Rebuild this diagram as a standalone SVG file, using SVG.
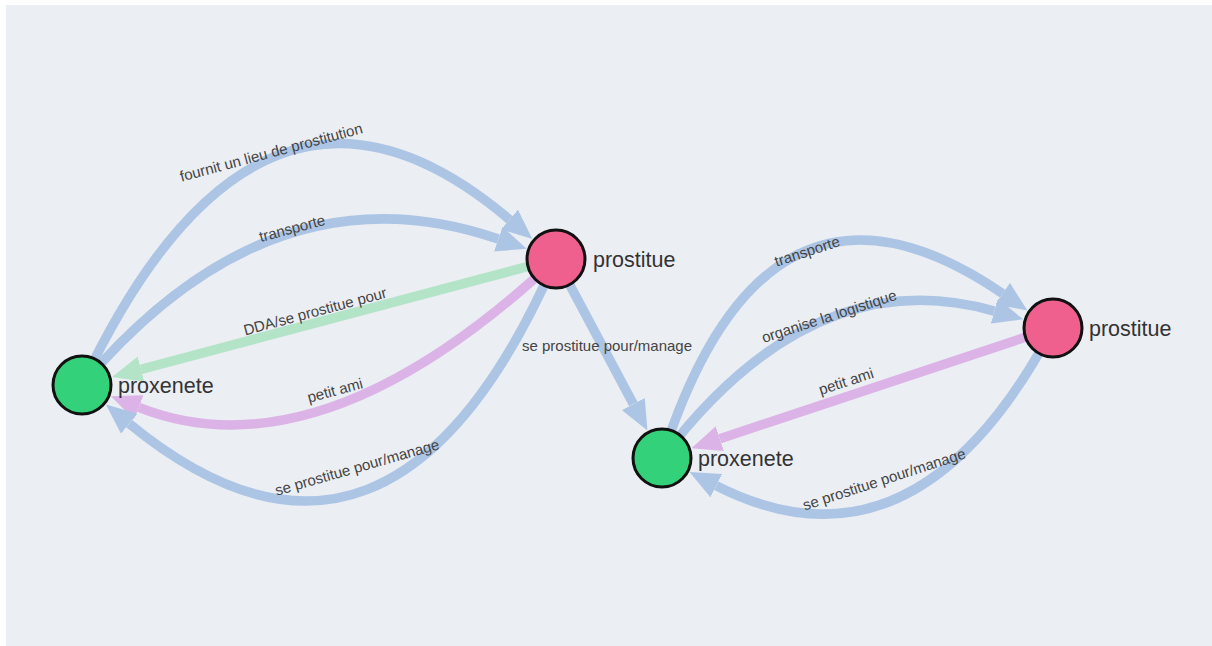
<svg xmlns="http://www.w3.org/2000/svg" width="1212" height="646" viewBox="0 0 1212 646">
<style>
.e{fill:none;stroke-width:9.5;stroke-linecap:butt}
.blue{stroke:#adc5e5}
.green{stroke:#b4e4c8}
.pink{stroke:#dcb3e6}
.el{font-family:"Liberation Sans",Arial,sans-serif;font-size:15px;fill:#444;text-anchor:middle;dominant-baseline:central}
.nl{font-family:"Liberation Sans",Arial,sans-serif;font-size:21.5px;fill:#333}
.prox{fill:#33d17a;stroke:#111;stroke-width:3}
.pros{fill:#f0608f;stroke:#111;stroke-width:3}
</style>
<defs>
<marker id="ab" markerUnits="userSpaceOnUse" markerWidth="30" markerHeight="26" refX="0" refY="13" orient="auto"><path d="M0,0 L30,13 L0,26 z" fill="#adc5e5"/></marker>
<marker id="ag" markerUnits="userSpaceOnUse" markerWidth="30" markerHeight="26" refX="0" refY="13" orient="auto"><path d="M0,0 L30,13 L0,26 z" fill="#b4e4c8"/></marker>
<marker id="ap" markerUnits="userSpaceOnUse" markerWidth="30" markerHeight="26" refX="0" refY="13" orient="auto"><path d="M0,0 L30,13 L0,26 z" fill="#dcb3e6"/></marker>
</defs>
<rect x="0" y="0" width="1212" height="646" fill="#ffffff"/>
<rect x="6" y="5" width="1206" height="641" fill="#ebeef3"/>
<g id="connectors">
<path class="e blue" d="M82,385 Q260,8 509.5,219.6" marker-end="url(#ab)"/>
<path class="e blue" d="M82,385 Q271,161 498.3,239.1" marker-end="url(#ab)"/>
<path class="e green" d="M556,259 L141,369.3" marker-end="url(#ag)"/>
<path class="e pink" d="M556,259 Q321,479 138.8,407.3" marker-end="url(#ap)"/>
<path class="e blue" d="M556,259 Q391,638 129.2,423.6" marker-end="url(#ab)"/>
<path class="e blue" d="M556,259 L633.3,404.1" marker-end="url(#ab)"/>
<path class="e blue" d="M662,458 Q766,132 1002.6,293.6" marker-end="url(#ab)"/>
<path class="e blue" d="M662,458 Q812.5,259 994.4,311.1" marker-end="url(#ab)"/>
<path class="e pink" d="M1053,328 L719.9,438.7" marker-end="url(#ap)"/>
<path class="e blue" d="M1053,328 Q915,587 716.3,485.7" marker-end="url(#ab)"/>
<text class="el" transform="translate(271,152) rotate(-15)">fournit un lieu de prostitution</text>
<text class="el" transform="translate(292,228) rotate(-15)">transporte</text>
<text class="el" transform="translate(315,311) rotate(-15)">DDA/se prostitue pour</text>
<text class="el" transform="translate(335,390) rotate(-15)">petit ami</text>
<text class="el" transform="translate(357,467) rotate(-16)">se prostitue pour/manage</text>
<text class="el" transform="translate(607,345)">se prostitue pour/manage</text>
<text class="el" transform="translate(807,251) rotate(-18)">transporte</text>
<text class="el" transform="translate(829,316) rotate(-18)">organise la logistique</text>
<text class="el" transform="translate(846,381) rotate(-18)">petit ami</text>
<text class="el" transform="translate(884,479) rotate(-18)">se prostitue pour/manage</text>
</g>
<g id="node-proxenete-1">
<circle class="prox" cx="82" cy="385" r="29"/>
<text class="nl" x="118" y="393">proxenete</text>
</g>
<g id="node-prostitue-1">
<circle class="pros" cx="556" cy="259" r="29"/>
<text class="nl" x="593" y="267">prostitue</text>
</g>
<g id="node-proxenete-2">
<circle class="prox" cx="662" cy="458" r="29"/>
<text class="nl" x="698" y="466">proxenete</text>
</g>
<g id="node-prostitue-2">
<circle class="pros" cx="1053" cy="328" r="29"/>
<text class="nl" x="1089" y="336">prostitue</text>
</g>
</svg>
